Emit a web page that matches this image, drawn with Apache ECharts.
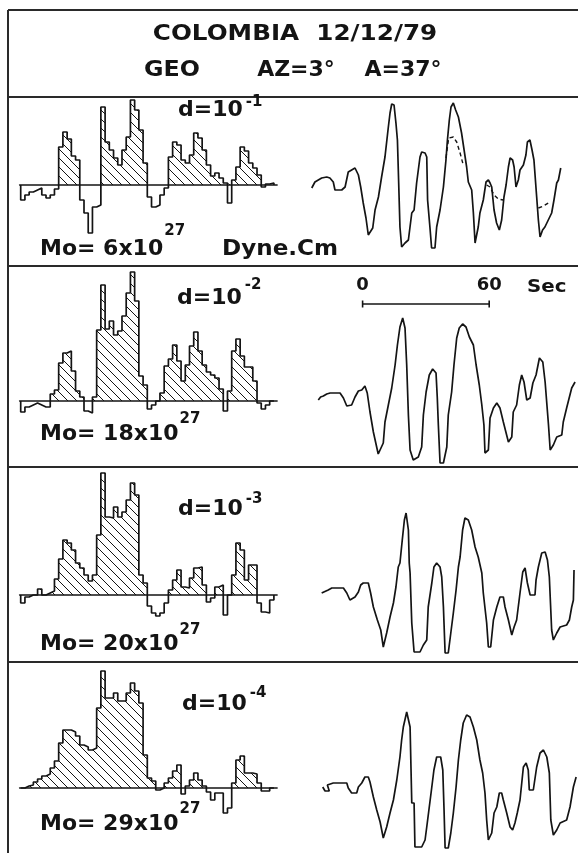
<!DOCTYPE html>
<html>
<head>
<meta charset="utf-8">
<script src="https://cdn.jsdelivr.net/npm/echarts@6/dist/echarts.min.js"></script>
<style>
  html, body { margin: 0; padding: 0; background: #fff; }
  #chart { width: 578px; height: 853px; }
</style>
</head>
<body>
<div id="chart"></div>
<script>
// ---- Source time functions (moment rate, 2-s bins) for four damping values ----
const stfBinSec = 2;
const stf1 = [-15,-10,-7,-5,-3,-10,-13,-10,-4,38, 53,46,29,25,-15,-28,-48,-22,-20,78, 43,35,27,20,35,48,85,75,55,22, -12,-22,-20,-10,-3,28,43,40,25,22, 30,52,47,35,20,9,12,7,2,-18, 5,18,38,34,22,17,10,-2,1,2];
const stf2 = [-11,-6,-4,-2,-4,-6,-6,7,11,38, 48,50,30,10,4,-10,-12,4,71,116, 72,80,66,70,85,108,129,100,25,16, -8,-4,0,8,35,42,56,40,20,36, 55,69,50,36,29,26,23,12,-10,10, 50,62,45,34,34,20,-2,-8,-4,0];
const stf3 = [-8,-2,0,0,6,0,2,4,16,36, 55,52,45,32,27,20,14,20,60,122, 78,77,88,78,83,95,112,100,20,12, -11,-18,-21,-18,-8,5,15,25,8,7, 17,27,28,10,-7,-3,8,10,-20,0, 20,52,45,15,30,30,-8,-17,-18,-5];
const stf4 = [0,2,3,6,9,12,14,20,27,45, 58,58,56,52,43,41,38,40,80,117, 90,90,95,87,87,95,105,97,85,33, 10,7,-2,0,5,10,17,23,-6,2, 8,15,8,2,-4,-12,-5,-5,-25,-20, 5,28,32,15,15,14,5,-3,-3,0];

// ---- Waveforms: [time (s), amplitude] ----
const wave1 = [[3.2,-3],[4.7,3],[6.3,5],[7.9,7],[10.3,8],[11.8,7],[13.4,3],[14.2,-5],[17.4,-5],[19.0,-2],[19.7,5],[20.5,13],[22.1,15],[23.7,17],[25.3,10],[26.4,-2],[27.6,-18],[28.9,-33],[30.0,-50],[30.8,-52],[32.1,-43],[33.2,-25],[34.8,-12],[36.3,8],[37.9,28],[39.5,58],[40.3,72],[41.1,81],[42.2,80],[43.1,62],[43.8,45],[44.4,2],[45.0,-42],[45.8,-62],[47.4,-58],[49.0,-55],[50.6,-28],[51.7,-25],[52.9,2],[54.5,28],[55.3,33],[56.9,32],[57.7,28],[58.1,-15],[59.2,-42],[60.0,-63],[61.6,-63],[62.4,-42],[64.0,-25],[65.6,-2],[66.8,25],[67.5,45],[68.4,65],[69.2,78],[70.3,82],[71.4,75],[72.7,68],[74.2,52],[75.4,35],[76.6,18],[77.4,3],[79.0,-5],[79.8,-28],[80.6,-58],[82.1,-42],[82.9,-28],[84.5,-15],[85.8,3],[86.9,5],[87.7,2],[88.5,-2],[89.6,-25],[90.8,-38],[92.1,-45],[93.2,-35],[94.3,-12],[95.3,0],[96.4,18],[97.2,27],[98.4,25],[99.1,18],[100.0,-2],[101.1,5],[101.9,15],[103.5,20],[104.7,30],[105.4,43],[106.6,45],[107.6,35],[108.5,25],[109.8,-12],[110.6,-35],[111.4,-52],[112.6,-45],[113.7,-42],[115.3,-35],[116.9,-28],[118.0,-15],[119.3,2],[120.1,5],[121.2,17]];
// second (dashed) trace where it departs from the first one
const wave1Alt = [
  [[66.8,27],[68.1,47],[70.3,48],[71.9,43],[73.5,32],[75.0,20]],
  [[86.1,0],[87.7,-2],[89.6,-10],[91.6,-14],[94.0,-15]],
  [[110.6,-23],[113.0,-21],[115.3,-18]]
];
const wave2 = [[6.3,-2],[7.4,1],[8.7,2],[10.3,4],[11.9,5],[14.2,5],[16.6,5],[18.2,0],[19.8,-8],[22.1,-7],[23.7,1],[25.3,7],[26.9,8],[28.4,12],[29.5,5],[30.8,-14],[32.4,-34],[34.7,-56],[37.1,-45],[37.9,-24],[39.5,-7],[41.1,10],[42.7,33],[43.8,53],[45.0,71],[46.3,80],[47.4,70],[48.2,33],[49.0,-17],[49.8,-52],[51.3,-62],[53.7,-59],[55.3,-49],[56.1,-17],[57.4,6],[58.9,23],[60.5,29],[62.1,25],[62.7,0],[63.2,-27],[64.0,-65],[65.6,-65],[67.2,-49],[67.9,-17],[69.5,6],[70.6,33],[71.9,60],[73.1,70],[74.7,74],[76.3,71],[77.9,61],[79.8,53],[81.1,33],[82.6,13],[83.8,-7],[84.8,-27],[85.3,-55],[86.9,-52],[87.7,-20],[89.3,-10],[90.9,-5],[92.4,-10],[94.0,-24],[96.4,-44],[98.0,-39],[98.7,-14],[100.3,-7],[101.6,13],[102.7,23],[103.8,16],[105.1,-2],[106.7,0],[108.0,15],[109.5,23],[111.1,40],[112.7,36],[113.8,16],[115.4,-27],[116.2,-52],[117.7,-47],[119.3,-39],[121.7,-37],[122.4,-24],[124.0,-10],[126.4,10],[128.0,16]];
const wave3 = [[7.9,-3],[11.0,0],[12.7,2],[15.0,2],[18.2,2],[19.8,-3],[21.3,-10],[23.7,-7],[25.3,-2],[26.4,5],[27.6,7],[30.0,7],[31.1,-3],[32.4,-17],[34.3,-30],[35.9,-40],[37.1,-57],[38.7,-43],[40.3,-27],[41.9,-13],[43.1,3],[44.2,23],[45.0,27],[46.1,50],[47.1,70],[47.9,77],[49.0,60],[49.4,27],[49.8,17],[50.6,-33],[51.7,-62],[54.5,-62],[56.1,-55],[57.7,-50],[58.4,-17],[60.1,7],[61.1,23],[62.4,27],[64.0,23],[64.8,13],[65.6,-17],[66.4,-63],[67.9,-63],[69.1,-43],[70.3,-23],[71.6,0],[72.7,23],[73.5,33],[74.7,60],[75.8,72],[77.4,70],[79.0,60],[80.6,43],[82.1,33],[83.8,17],[84.5,-3],[86.1,-33],[86.9,-57],[88.0,-57],[89.3,-30],[90.9,-17],[92.4,-7],[94.0,-7],[94.8,-17],[96.4,-30],[98.0,-45],[99.1,-37],[100.3,-30],[101.9,-3],[103.2,18],[104.3,22],[105.4,7],[106.7,-5],[109.0,-5],[109.5,10],[110.6,23],[112.2,37],[113.8,38],[114.9,30],[115.8,13],[116.9,-40],[117.7,-50],[119.3,-43],[120.9,-37],[124.0,-35],[125.3,-30],[126.4,-17],[127.2,-10],[127.5,20]];
const wave4 = [[8.4,0],[9.5,-4],[11.5,-4],[10.6,2],[13.4,4],[16.6,4],[19.8,4],[20.5,-1],[22.1,-6],[24.5,-6],[25.3,0],[26.9,4],[28.4,10],[30.0,10],[30.8,5],[32.4,-10],[34.0,-23],[35.6,-35],[37.1,-51],[38.7,-40],[40.3,-26],[41.9,-13],[43.5,7],[45.0,30],[45.8,47],[46.6,60],[47.4,62],[48.2,75],[49.0,77],[49.8,60],[50.6,-16],[51.7,-16],[52.1,-60],[55.3,-60],[56.9,-53],[57.7,-40],[58.9,-20],[60.1,0],[61.1,17],[62.4,30],[64.3,30],[65.3,17],[65.9,-23],[66.4,-61],[67.9,-61],[69.1,-46],[70.3,-26],[71.6,0],[72.7,27],[73.8,47],[75.0,64],[76.6,72],[78.2,70],[79.8,60],[81.4,47],[82.9,27],[84.2,14],[85.3,-6],[86.1,-33],[86.9,-53],[88.5,-46],[89.6,-26],[90.9,-20],[92.1,-6],[93.2,-6],[94.0,-13],[95.6,-26],[97.2,-40],[98.4,-43],[99.5,-36],[100.6,-26],[101.9,-13],[103.5,20],[104.8,24],[105.8,17],[106.3,-3],[108.2,-3],[109.8,20],[111.4,34],[113.0,37],[114.6,30],[115.8,14],[116.5,-33],[117.7,-48],[119.3,-43],[120.9,-36],[124.0,-33],[125.6,-20],[127.2,0],[128.5,10]];

// ---- Labels ----
const titleLine1 = 'COLOMBIA  12/12/79';
const titleLine2 = ['GEO', 'AZ=3°', 'A=37°'];
const dampExponents = ['-1', '-2', '-3', '-4'];
const momentsE27 = [6, 18, 20, 29];
const scaleBarSec = [0, 60];

const stfs = [stf1, stf2, stf3, stf4];
const waves = [wave1, wave2, wave3, wave4];

// ---- Layout ----
const PX_PER_SEC = 2.11;
const FAMILY = '"DejaVu Sans", Verdana, sans-serif';
const INK = '#141414';
const panels = [
  { top: 98,  bottom: 265, stfBase: 185, waveBase: 185, dX: 178, dY: 110, moY: 249, supD: 102, supM: 231 },
  { top: 268, bottom: 466, stfBase: 401, waveBase: 398, dX: 177, dY: 298, moY: 434, supD: 285, supM: 419 },
  { top: 469, bottom: 661, stfBase: 595, waveBase: 590, dX: 178, dY: 509, moY: 644, supD: 499, supM: 630 },
  { top: 664, bottom: 853, stfBase: 788, waveBase: 787, dX: 182, dY: 704, moY: 824, supD: 693, supM: 809 }
];
const stfOriginPx = 20.7, stfMin = -0.5, stfMax = 121.5;
const waveOriginPx = 305, waveMin = 0, waveMax = 130;
const scaleBarStart = 27.3, scaleBarAmp = 94;

function hatchPattern() {
  const s = 9;
  const c = document.createElement('canvas');
  c.width = s; c.height = s;
  const g = c.getContext('2d');
  g.strokeStyle = INK; g.lineWidth = 1;
  g.beginPath();
  for (const k of [-s, 0, s]) { g.moveTo(k, 0); g.lineTo(k + s, s); }
  g.stroke();
  return c;
}
const hatch = hatchPattern();

const measureCtx = document.createElement('canvas').getContext('2d');
function textWidth(text, font) { measureCtx.font = font; return measureCtx.measureText(text).width; }

const grids = [], xAxes = [], yAxes = [], series = [];
panels.forEach((p, k) => {
  const h = p.bottom - p.top;
  // left: source time function
  grids.push({ left: stfOriginPx + stfMin * PX_PER_SEC, width: (stfMax - stfMin) * PX_PER_SEC, top: p.top, height: h, outerBoundsMode: 'none' });
  xAxes.push({ type: 'value', gridIndex: 2 * k, min: stfMin, max: stfMax,
    axisLine: { show: true, onZero: true, lineStyle: { color: INK, width: 1.6 } },
    axisTick: { show: false }, axisLabel: { show: false }, splitLine: { show: false } });
  yAxes.push({ type: 'value', gridIndex: 2 * k, min: p.stfBase - p.bottom, max: p.stfBase - p.top, show: false });
  // right: waveform
  grids.push({ left: waveOriginPx + waveMin * PX_PER_SEC, width: (waveMax - waveMin) * PX_PER_SEC, top: p.top, height: h, outerBoundsMode: 'none' });
  xAxes.push({ type: 'value', gridIndex: 2 * k + 1, min: waveMin, max: waveMax, show: false });
  yAxes.push({ type: 'value', gridIndex: 2 * k + 1, min: p.waveBase - p.bottom, max: p.waveBase - p.top, show: false });

  const vals = stfs[k];
  const outline = [[0, 0]].concat(vals.map((v, i) => [i * stfBinSec, v]), [[vals.length * stfBinSec, vals[vals.length - 1]], [vals.length * stfBinSec, 0]]);
  const positive = outline.map(([t, v]) => [t, Math.max(v, 0)]);
  series.push({ type: 'line', xAxisIndex: 2 * k, yAxisIndex: 2 * k, step: 'end', symbol: 'none', silent: true,
    data: positive, lineStyle: { width: 0, opacity: 0 },
    areaStyle: { color: { image: hatch, repeat: 'repeat' }, opacity: 1 } });
  series.push({ type: 'line', xAxisIndex: 2 * k, yAxisIndex: 2 * k, step: 'end', symbol: 'none', silent: true,
    data: outline, lineStyle: { color: INK, width: 1.7 } });
  series.push({ type: 'line', xAxisIndex: 2 * k + 1, yAxisIndex: 2 * k + 1, symbol: 'none', silent: true,
    data: waves[k], lineStyle: { color: INK, width: 1.7 } });
});

wave1Alt.forEach(seg => series.push({ type: 'line', xAxisIndex: 1, yAxisIndex: 1, symbol: 'none', silent: true,
  data: seg, lineStyle: { color: INK, width: 1.4, type: [4, 3] } }));

// time scale bar above the second waveform
series.push({ type: 'line', xAxisIndex: 3, yAxisIndex: 3, silent: true,
  data: scaleBarSec.map(s => ({ value: [scaleBarStart + s, scaleBarAmp], name: String(s) })),
  symbol: 'rect', symbolSize: [1.6, 7], itemStyle: { color: INK },
  lineStyle: { color: INK, width: 1.4 },
  label: { show: true, position: 'top', distance: 6, formatter: '{b}', color: INK,
    fontSize: 18, fontWeight: 'bold', fontFamily: FAMILY } });

function font(size) { return 'bold ' + size + 'px ' + FAMILY; }
function txt(text, x, y, size, align, sx) {
  return { type: 'text', x: x, y: y, scaleX: sx || 1, originX: 0, originY: 0, silent: true,
    style: { text: text, font: font(size), fill: INK, align: align, verticalAlign: 'middle',
      textAlign: align, textVerticalAlign: 'middle' } };
}
function hline(y) { return { type: 'line', silent: true, shape: { x1: 8, y1: y, x2: 578, y2: y }, style: { stroke: '#2a2a2a', lineWidth: 2 } }; }

const MAIN = 22, SUP = 15;
const graphics = [
  { type: 'line', silent: true, shape: { x1: 8, y1: 10, x2: 8, y2: 853 }, style: { stroke: '#2a2a2a', lineWidth: 2 } },
  hline(10), hline(97), hline(266), hline(467), hline(662),
  txt(titleLine1, 295, 34, 22, 'center', 1.12),
  txt(titleLine2[0], 172, 70, 22, 'center', 1.08),
  txt(titleLine2[1], 296, 70, 22, 'center', 1),
  txt(titleLine2[2], 403, 70, 22, 'center', 1),
  txt('Sec', 527, 287, 18, 'left', 1.1),
  txt('Dyne.Cm', 222, panels[0].moY, MAIN, 'left', 1.05)
];
panels.forEach((p, k) => {
  const dText = 'd=10';
  const moText = 'Mo= ' + momentsE27[k] + 'x10';
  graphics.push(txt(dText, p.dX, p.dY, MAIN, 'left', 1));
  graphics.push(txt(dampExponents[k], p.dX + textWidth(dText, font(MAIN)) + 3, p.supD, SUP, 'left', 1));
  graphics.push(txt(moText, 40, p.moY, MAIN, 'left', 1));
  graphics.push(txt('27', 40 + textWidth(moText, font(MAIN)) + 1, p.supM, SUP, 'left', 1));
});

const chart = echarts.init(document.getElementById('chart'), null, { renderer: 'canvas' });
chart.setOption({
  animation: false,
  backgroundColor: '#ffffff',
  grid: grids, xAxis: xAxes, yAxis: yAxes, series: series,
  graphic: graphics
});
</script>
</body>
</html>
